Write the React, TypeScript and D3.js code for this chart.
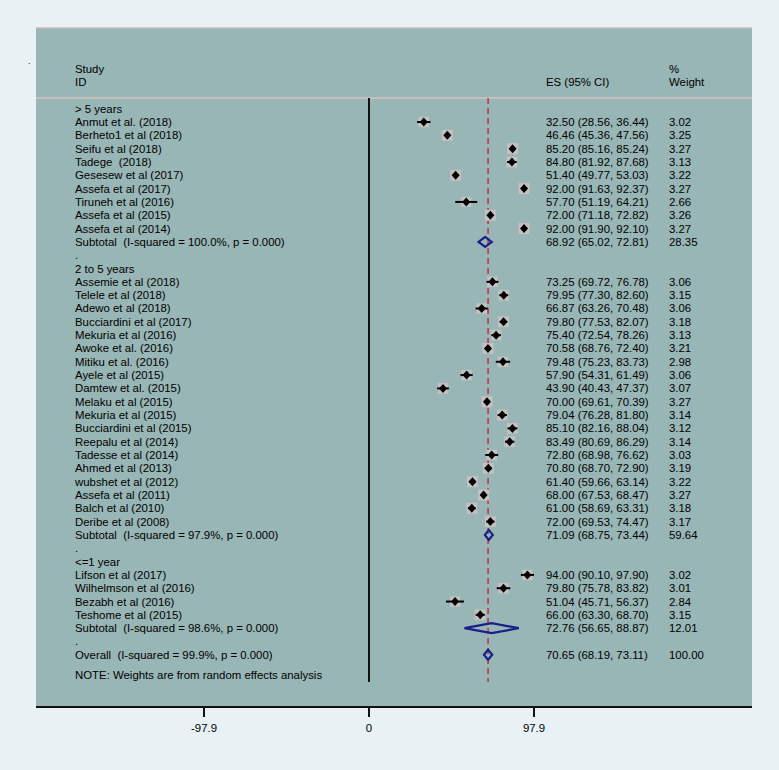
import React from "react";
import * as d3 from "d3";

const groupLabels = ["> 5 years", "2 to 5 years", "<=1 year"];

const studyNames = [
  ["Anmut et al. (2018)", "Berheto1 et al (2018)", "Seifu et al (2018)", "Tadege  (2018)", "Gesesew et al (2017)", "Assefa et al (2017)", "Tiruneh et al (2016)", "Assefa et al (2015)", "Assefa et al (2014)"],
  ["Assemie et al (2018)", "Telele et al (2018)", "Adewo et al (2018)", "Bucciardini et al (2017)", "Mekuria et al (2016)", "Awoke et al. (2016)", "Mitiku et al. (2016)", "Ayele et al (2015)", "Damtew et al. (2015)", "Melaku et al (2015)", "Mekuria et al (2015)", "Bucciardini et al (2015)", "Reepalu et al (2014)", "Tadesse et al (2014)", "Ahmed et al (2013)", "wubshet et al (2012)", "Assefa et al (2011)", "Balch et al (2010)", "Deribe et al (2008)"],
  ["Lifson et al (2017)", "Wilhelmson et al (2016)", "Bezabh et al (2016)", "Teshome et al (2015)"],
];
const studyES = [
  [32.5, 46.46, 85.2, 84.8, 51.4, 92.0, 57.7, 72.0, 92.0],
  [73.25, 79.95, 66.87, 79.8, 75.4, 70.58, 79.48, 57.9, 43.9, 70.0, 79.04, 85.1, 83.49, 72.8, 70.8, 61.4, 68.0, 61.0, 72.0],
  [94.0, 79.8, 51.04, 66.0],
];
const studyLo = [
  [28.56, 45.36, 85.16, 81.92, 49.77, 91.63, 51.19, 71.18, 91.9],
  [69.72, 77.3, 63.26, 77.53, 72.54, 68.76, 75.23, 54.31, 40.43, 69.61, 76.28, 82.16, 80.69, 68.98, 68.7, 59.66, 67.53, 58.69, 69.53],
  [90.1, 75.78, 45.71, 63.3],
];
const studyHi = [
  [36.44, 47.56, 85.24, 87.68, 53.03, 92.37, 64.21, 72.82, 92.1],
  [76.78, 82.6, 70.48, 82.07, 78.26, 72.4, 83.73, 61.49, 47.37, 70.39, 81.8, 88.04, 86.29, 76.62, 72.9, 63.14, 68.47, 63.31, 74.47],
  [97.9, 83.82, 56.37, 68.7],
];
const studyWeight = [
  [3.02, 3.25, 3.27, 3.13, 3.22, 3.27, 2.66, 3.26, 3.27],
  [3.06, 3.15, 3.06, 3.18, 3.13, 3.21, 2.98, 3.06, 3.07, 3.27, 3.14, 3.12, 3.14, 3.03, 3.19, 3.22, 3.27, 3.18, 3.17],
  [3.02, 3.01, 2.84, 3.15],
];

const subtotalLabels = [
  "Subtotal  (I-squared = 100.0%, p = 0.000)",
  "Subtotal  (I-squared = 97.9%, p = 0.000)",
  "Subtotal  (I-squared = 98.6%, p = 0.000)",
];
const subtotalES = [68.92, 71.09, 72.76];
const subtotalLo = [65.02, 68.75, 56.65];
const subtotalHi = [72.81, 73.44, 88.87];
const subtotalWeight = [28.35, 59.64, 12.01];

const overallLabel = "Overall  (I-squared = 99.9%, p = 0.000)";
const overallES = 70.65;
const overallLo = 68.19;
const overallHi = 73.11;
const overallWeight = 100.0;

const noteText = "NOTE: Weights are from random effects analysis";
const tickValues = [-97.9, 0, 97.9];

type Row = {
  kind: "group" | "study" | "subtotal" | "dot" | "overall";
  label: string;
  es?: number;
  lo?: number;
  hi?: number;
  w?: number;
};

const rows: Row[] = [];
groupLabels.forEach((g, gi) => {
  rows.push({ kind: "group", label: g });
  studyNames[gi].forEach((n, i) =>
    rows.push({ kind: "study", label: n, es: studyES[gi][i], lo: studyLo[gi][i], hi: studyHi[gi][i], w: studyWeight[gi][i] })
  );
  rows.push({ kind: "subtotal", label: subtotalLabels[gi], es: subtotalES[gi], lo: subtotalLo[gi], hi: subtotalHi[gi], w: subtotalWeight[gi] });
  rows.push({ kind: "dot", label: "." });
});
rows.push({ kind: "overall", label: overallLabel, es: overallES, lo: overallLo, hi: overallHi, w: overallWeight });

const fmt = d3.format(".2f");

export default function App() {
  const W = 779, H = 770;
  const panel = { left: 36, right: 752, top: 28, bottom: 707 };
  const headerLineY = 98;
  const x = d3.scaleLinear().domain([-97.9, 97.9]).range([204, 534]);
  const y = d3.scaleLinear().domain([0, rows.length - 1]).range([108.7, 108.7 + (rows.length - 1) * 13.32]);
  const boxSize = d3.scaleSqrt().domain([0, 3.27]).range([0, 11]);
  const plotBottom = 682;
  const textX = 75, esX = 546, wX = 669;
  const font = "'Liberation Sans', Arial, Helvetica, sans-serif";
  const fs = 11.4;
  const navy = "#1a1f8a";
  const ink = "#000";
  const pre = { whiteSpace: "pre" as const };

  const diamond = (cx: number, cy: number, hw: number, hh: number) =>
    `M${cx - hw},${cy}L${cx},${cy - hh}L${cx + hw},${cy}L${cx},${cy + hh}Z`;
  const ciDiamond = (lo: number, es: number, hi: number, cy: number, hh: number) =>
    `M${lo},${cy}L${es},${cy - hh}L${hi},${cy}L${es},${cy + hh}Z`;

  return (
    <svg width={W} height={H} style={{ position: "absolute", left: 0, top: 0 }} fontFamily={font} fontSize={fs}>
      <rect x={0} y={0} width={W} height={H} fill="#e8f1f3" />
      <text x={28} y={64} fill="#222" fontSize={9}>.</text>
      <rect x={panel.left} y={panel.top} width={panel.right - panel.left} height={panel.bottom - panel.top} fill="#98b6b5" />
      <line x1={panel.left} x2={panel.right} y1={panel.top} y2={panel.top} stroke="#c9b8b8" strokeWidth={1.5} />
      <line x1={panel.left} x2={panel.right} y1={headerLineY} y2={headerLineY} stroke="#c8c0c0" strokeWidth={2} />

      {/* header */}
      <text x={textX} y={69} dy="0.35em" fill={ink}>Study</text>
      <text x={textX} y={82} dy="0.35em" fill={ink}>ID</text>
      <text x={esX} y={82} dy="0.35em" fill={ink}>ES (95% CI)</text>
      <text x={wX} y={69} dy="0.35em" fill={ink}>%</text>
      <text x={wX} y={82} dy="0.35em" fill={ink}>Weight</text>

      {/* null line */}
      <line x1={x(0)} x2={x(0)} y1={headerLineY} y2={plotBottom} stroke="#111" strokeWidth={2} />
      {/* overall dashed line */}
      <line x1={x(overallES)} x2={x(overallES)} y1={headerLineY} y2={plotBottom} stroke="#c0304a" strokeWidth={1.5} strokeDasharray="6,4" />

      {rows.map((r, i) => {
        const cy = y(i);
        return (
          <g key={i}>
            <text x={textX} y={cy} dy="0.35em" fill={ink} xmlSpace="preserve" style={pre}>{r.label}</text>
            {r.kind === "study" && (
              <g>
                <rect
                  x={x(r.es!) - boxSize(r.w!) / 2}
                  y={cy - boxSize(r.w!) / 2}
                  width={boxSize(r.w!)}
                  height={boxSize(r.w!)}
                  fill="#c6c0c0"
                />
                <line x1={x(r.lo!)} x2={x(r.hi!)} y1={cy} y2={cy} stroke="#000" strokeWidth={2} />
                <path d={diamond(x(r.es!), cy, 4, 4.5)} fill="#000" />
              </g>
            )}
            {(r.kind === "subtotal" || r.kind === "overall") && (
              <path d={ciDiamond(x(r.lo!), x(r.es!), x(r.hi!), cy, 5)} fill="none" stroke={navy} strokeWidth={2.2} />
            )}
            {r.es !== undefined && (
              <>
                <text x={esX} y={cy} dy="0.35em" fill={ink}>{`${fmt(r.es)} (${fmt(r.lo!)}, ${fmt(r.hi!)})`}</text>
                <text x={wX} y={cy} dy="0.35em" fill={ink}>{fmt(r.w!)}</text>
              </>
            )}
          </g>
        );
      })}

      <text x={textX} y={675} dy="0.35em" fill={ink}>{noteText}</text>

      {/* axis */}
      <line x1={panel.left} x2={panel.right} y1={panel.bottom} y2={panel.bottom} stroke="#111" strokeWidth={2} />
      {tickValues.map((t) => (
        <g key={t}>
          <line x1={x(t)} x2={x(t)} y1={panel.bottom} y2={panel.bottom + 10} stroke="#111" strokeWidth={2} />
          <text x={x(t)} y={728} dy="0.35em" textAnchor="middle" fill={ink}>{String(t)}</text>
        </g>
      ))}
    </svg>
  );
}
